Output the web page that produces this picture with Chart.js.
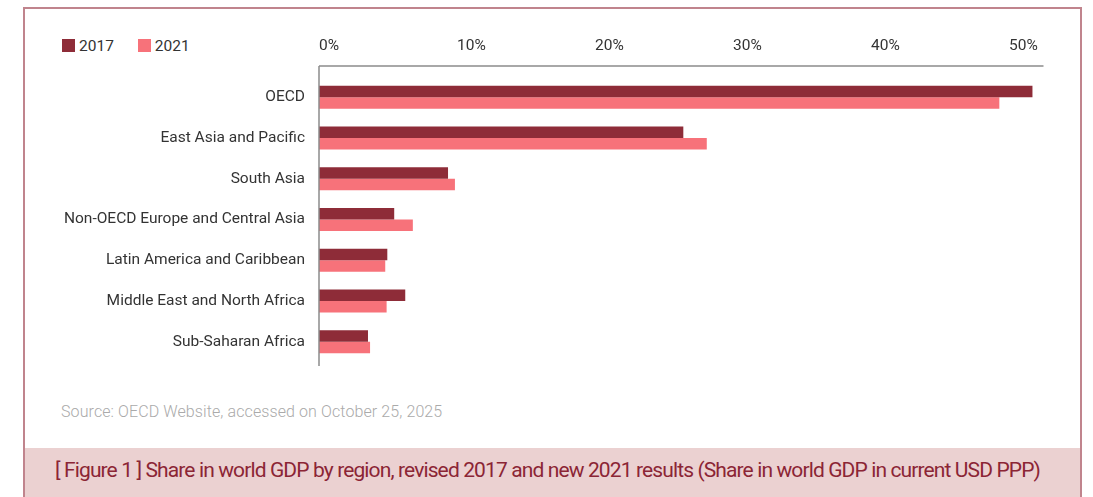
<!DOCTYPE html>
<html lang="en">
<head>
<meta charset="UTF-8">
<title>Share in world GDP by region</title>
<script src="https://cdn.jsdelivr.net/npm/chart.js"></script>
<style>
    html, body { margin: 0; padding: 0; background: #fff; }
    body { width: 1093px; height: 497px; position: relative; overflow: hidden; font-family: Roboto, sans-serif; }
    #frame {
        position: absolute; left: 23px; top: 7px; width: 1059px; height: 500px;
        border: 2px solid #c0848d; box-sizing: border-box;
    }
    #band {
        position: absolute; left: 25px; top: 448px; width: 1055px; height: 49px;
        background: #ebd1d1;
    }
    #caption {
        position: absolute; left: 55px; top: 458px; font-size: 21px; color: #8b2535;
        letter-spacing: -0.88px; white-space: nowrap; font-family: Roboto, sans-serif;
    }
    #source {
        position: absolute; left: 61px; top: 402px; font-size: 16px; color: #aaa;
        font-weight: 300; white-space: nowrap; letter-spacing: 0.1px;
    }
    #legend { position: absolute; left: 62px; top: 37px; font-size: 15.5px; color: #333; }
    #legend span.item { display: inline-block; margin-right: 24px; }
    #legend i { display: inline-block; width: 13px; height: 13px; vertical-align: -1px; margin-right: 4px; }
    #chart { position: absolute; left: 0; top: 0; }
</style>
</head>
<body>
<div id="frame"></div>
<div id="band"></div>
<div id="caption">[ Figure 1 ] Share in world GDP by region, revised 2017 and new 2021 results (Share in world GDP in current USD PPP)</div>
<div id="source">Source: OECD Website, accessed on October 25, 2025</div>
<div id="legend"></div>
<canvas id="chart" width="1093" height="497"></canvas>

<script>
    const regions = [
        'OECD',
        'East Asia and Pacific',
        'South Asia',
        'Non-OECD Europe and Central Asia',
        'Latin America and Caribbean',
        'Middle East and North Africa',
        'Sub-Saharan Africa'
    ];
    const share2017 = [51.7, 26.4, 9.35, 5.45, 4.95, 6.25, 3.55];
    const share2021 = [49.3, 28.1, 9.85, 6.8, 4.8, 4.9, 3.7];
    const seriesNames = ['2017', '2021'];
    const seriesColors = ['#8e2c38', '#f7727a'];

    // html legend, same colours as the datasets
    document.getElementById('legend').innerHTML = seriesNames.map((n, i) =>
        `<span class="item"><i style="background:${seriesColors[i]}"></i>${n}</span>`).join('');

    // axis lines sit a bit outside the bar area
    const axisLines = {
        id: 'axisLines',
        afterDraw(chart) {
            const { ctx, chartArea: a } = chart;
            const top = a.top - 11;
            ctx.save();
            ctx.strokeStyle = '#8c8c8c';
            ctx.lineWidth = 1.5;
            ctx.beginPath();
            ctx.moveTo(a.left, top);
            ctx.lineTo(a.right, top);
            ctx.moveTo(a.left, top);
            ctx.lineTo(a.left, a.bottom + 4);
            ctx.stroke();
            ctx.restore();
        }
    };

    const font = { family: 'Roboto, sans-serif', size: 15.5 };

    new Chart(document.getElementById('chart'), {
        type: 'bar',
        data: {
            labels: regions,
            datasets: [
                { label: seriesNames[0], data: share2017, backgroundColor: seriesColors[0] },
                { label: seriesNames[1], data: share2021, backgroundColor: seriesColors[1] }
            ]
        },
        options: {
            indexAxis: 'y',
            responsive: false,
            animation: false,
            layout: { padding: { left: 0, right: 49.5, top: 0, bottom: 135 } },
            datasets: { bar: { categoryPercentage: 0.565, barPercentage: 1 } },
            scales: {
                x: {
                    position: 'top',
                    min: 0,
                    max: 52.5,
                    afterFit: s => { s.height = 77; },
                    grid: { display: false, drawTicks: false },
                    border: { display: false },
                    ticks: {
                        stepSize: 10,
                        includeBounds: false,
                        align: 'start',
                        padding: 22,
                        color: '#333',
                        font,
                        callback: v => v + '%'
                    }
                },
                y: {
                    afterFit: s => { s.width = 319; },
                    grid: { display: false, drawTicks: false },
                    border: { display: false },
                    ticks: { padding: 14, color: '#333', font }
                }
            },
            plugins: {
                legend: { display: false },
                tooltip: { enabled: false }
            }
        },
        plugins: [axisLines]
    });
</script>
</body>
</html>
